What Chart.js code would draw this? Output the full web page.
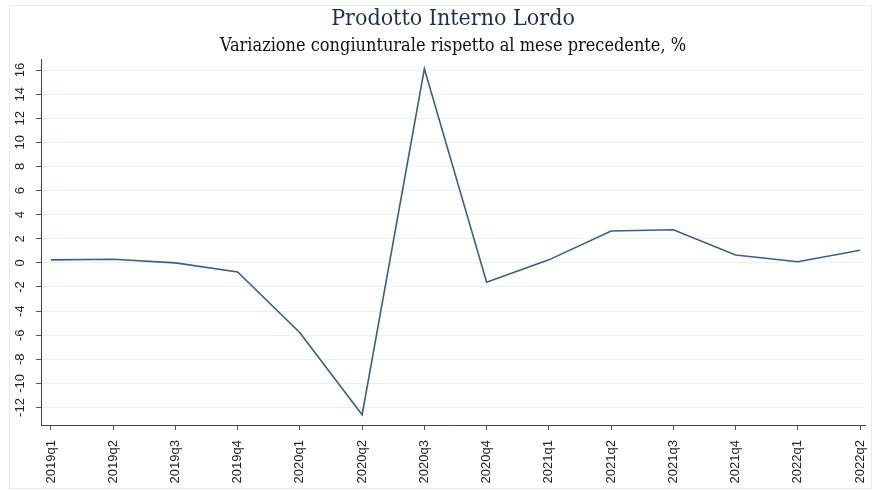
<!DOCTYPE html>
<html>
<head>
<meta charset="utf-8">
<script src="https://cdn.jsdelivr.net/npm/chart.js@4"></script>
<style>
  html, body { margin: 0; padding: 0; background: #fff; }
  #wrap { width: 875px; height: 491px; position: relative; }
</style>
</head>
<body>
<div id="wrap"><canvas id="pil"></canvas></div>
<script>
// Dati: PIL, variazione congiunturale %
const trimestri = ['2019q1', '2019q2', '2019q3', '2019q4', '2020q1', '2020q2', '2020q3',
  '2020q4', '2021q1', '2021q2', '2021q3', '2021q4', '2022q1', '2022q2'];
const variazione = [0.25, 0.3, 0.0, -0.75, -5.8, -12.6, 16.1, -1.6, 0.25, 2.65, 2.75, 0.65, 0.1, 1.05];
const yTicks = [-12, -10, -8, -6, -4, -2, 0, 2, 4, 6, 8, 10, 12, 14, 16];

const titolo = 'Prodotto Interno Lordo';
const sottotitolo = 'Variazione congiunturale rispetto al mese precedente, %';

// cornice esterna + etichette asse y ruotate
const extraPlugin = {
  id: 'extra',
  beforeDraw(chart) {
    const ctx = chart.ctx;
    ctx.save();
    ctx.strokeStyle = '#e6eced';
    ctx.lineWidth = 1;
    ctx.strokeRect(9.5, 5.5, 862, 483);
    ctx.restore();
  },
  afterDraw(chart) {
    const ctx = chart.ctx;
    const y = chart.scales.y;
    ctx.save();
    ctx.fillStyle = '#222';
    ctx.font = '13px "Liberation Sans", Arial, sans-serif';
    ctx.textAlign = 'center';
    ctx.textBaseline = 'middle';
    yTicks.forEach(v => {
      const py = y.getPixelForValue(v);
      ctx.save();
      ctx.translate(20, py);
      ctx.rotate(-Math.PI / 2);
      ctx.fillText(String(v), 0, 0);
      ctx.restore();
    });
    ctx.restore();
  }
};

new Chart(document.getElementById('pil'), {
  type: 'line',
  data: {
    datasets: [{
      data: variazione.map((v, i) => ({ x: i, y: v })),
      borderColor: '#3d5f80',
      borderWidth: 1.6,
      pointRadius: 0,
      tension: 0,
      fill: false
    }]
  },
  options: {
    responsive: true,
    maintainAspectRatio: false,
    animation: false,
    layout: { padding: { top: 5, right: 10, left: 0, bottom: 0 } },
    plugins: {
      legend: { display: false },
      tooltip: { enabled: false },
      title: {
        display: true,
        fullSize: false,
        text: titolo,
        color: '#1e2f4f',
        font: { family: '"DejaVu Serif Condensed", "DejaVu Serif", serif', size: 23, weight: 'normal' },
        padding: { top: 0, bottom: 0 }
      },
      subtitle: {
        display: true,
        fullSize: false,
        text: sottotitolo,
        color: '#111',
        font: { family: '"DejaVu Serif Condensed", "DejaVu Serif", serif', size: 18, weight: 'normal' },
        padding: { top: 3, bottom: 2 }
      }
    },
    scales: {
      x: {
        type: 'linear',
        min: -0.16,
        max: 13.08,
        afterBuildTicks(scale) {
          scale.ticks = trimestri.map((t, i) => ({ value: i }));
        },
        ticks: {
          autoSkip: false,
          minRotation: 90,
          maxRotation: 90,
          color: '#222',
          font: { family: '"Liberation Sans", Arial, sans-serif', size: 13 },
          padding: 10,
          callback: (v) => trimestri[v]
        },
        grid: {
          drawOnChartArea: false,
          drawTicks: true,
          tickLength: 5,
          color: '#555'
        },
        border: { color: '#444', width: 1 },
        afterFit(scale) {
          scale.height = 66;
          scale.paddingLeft = 0;
          scale.paddingRight = 0;
        }
      },
      y: {
        min: -13.45,
        max: 16.9,
        afterBuildTicks(scale) {
          scale.ticks = yTicks.map(v => ({ value: v }));
        },
        ticks: {
          color: 'rgba(0,0,0,0)',
          font: { size: 12 },
          padding: 2
        },
        grid: {
          color: '#e9f0f1',
          tickColor: '#555',
          tickLength: 5,
          drawTicks: true
        },
        border: { color: '#444', width: 1 },
        afterFit(scale) {
          scale.width = 41;
          scale.paddingTop = 0;
          scale.paddingBottom = 0;
        }
      }
    }
  },
  plugins: [extraPlugin]
});
</script>
</body>
</html>
